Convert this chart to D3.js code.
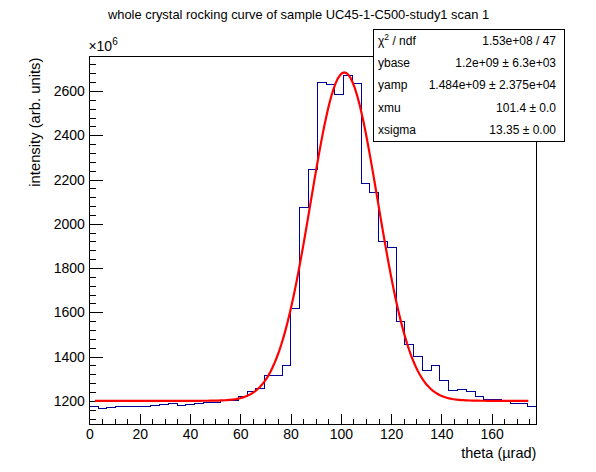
<!DOCTYPE html>
<html><head><meta charset="utf-8">
<script src="https://cdn.jsdelivr.net/npm/d3@7"></script>
<style>
body{margin:0;background:#fff}
svg{display:block}
text{font-family:"Liberation Sans",Arial,Helvetica,sans-serif;fill:#000}
</style>
</head><body>
<svg id="c" width="596" height="472"></svg>
<script>
// ---- data (intensity in units of 1e6) ----
const xRange = [0, 177.8];            // histogram range, theta (µrad)
const binValues = [
  1173, 1166, 1170, 1175, 1175, 1175, 1176, 1178, 1185, 1186,
  1181, 1182, 1188, 1193, 1194, 1203, 1203, 1218, 1242, 1256,
  1316, 1316, 1361, 1618, 2074, 2246, 2639, 2630, 2582, 2671,
  2633, 2183, 2141, 1918, 1893, 1557, 1456, 1401, 1337, 1360,
  1294, 1247, 1252, 1242, 1220, 1208, 1208, 1200, 1188, 1188,
  1175
];
const yRange = [1093, 2755.5];
const xTicks = [0, 20, 40, 60, 80, 100, 120, 140, 160];
const yTicks = [1200, 1400, 1600, 1800, 2000, 2200, 2400, 2600];
const fitRange = [2.2, 174.6];
const fitParamNames = ["ybase", "yamp", "xmu", "xsigma"];
const fitParamValues = [1200, 1484, 101.4, 13.35];   // ybase, yamp in 1e6
const statLabels = ["χ2 / ndf", "ybase", "yamp", "xmu", "xsigma"];
const statValues = ["1.53e+08 / 47", "1.2e+09 ± 6.3e+03", "1.484e+09 ± 2.375e+04", "101.4 ± 0.0", "13.35 ± 0.00"];
const titleText = "whole crystal rocking curve of sample UC45-1-C500-study1 scan 1";
const xTitle = "theta (µrad)";
const yTitle = "intensity (arb. units)";

// ---- layout ----
const W = 596, H = 472;
const L = 89.4, R = 536.4, T = 56.6, B = 424.5;
const svg = d3.select("#c");
const x = d3.scaleLinear().domain(xRange).range([L, R]);
const y = d3.scaleLinear().domain(yRange).range([B, T]);

// minor ticks
const xMinor = d3.range(0, xRange[1] + 0.001, 5).filter(v => v % 20 !== 0);
const yMinor = d3.range(1120, yRange[1], 40).filter(v => v % 200 !== 0);

const gx = svg.append("g").attr("transform", `translate(0,${B})`);
gx.call(d3.axisBottom(x).tickValues(xTicks).tickSizeInner(-11).tickSizeOuter(0).tickPadding(5).tickFormat(d3.format("d")));
const gxm = svg.append("g").attr("transform", `translate(0,${B})`);
gxm.call(d3.axisBottom(x).tickValues(xMinor).tickSizeInner(-5.5).tickSizeOuter(0).tickFormat(""));

const gy = svg.append("g").attr("transform", `translate(${L},0)`);
gy.call(d3.axisLeft(y).tickValues(yTicks).tickSizeInner(-13.4).tickSizeOuter(0).tickPadding(4.5).tickFormat(d3.format("d")));
const gym = svg.append("g").attr("transform", `translate(${L},0)`);
gym.call(d3.axisLeft(y).tickValues(yMinor).tickSizeInner(-6.7).tickSizeOuter(0).tickFormat(""));

svg.selectAll(".domain").remove();
svg.selectAll(".tick line").attr("stroke", "#000").attr("shape-rendering", "crispEdges");
svg.selectAll(".tick text").style("font-size", "14px").attr("fill", "#000");

// histogram
const nb = binValues.length;
const bw = (xRange[1] - xRange[0]) / nb;
const pts = [];
binValues.forEach((v, i) => {
  pts.push([xRange[0] + i * bw, v]);
  pts.push([xRange[0] + (i + 1) * bw, v]);
});
svg.append("path")
  .attr("d", d3.line().x(d => x(d[0])).y(d => y(d[1]))(pts))
  .attr("fill", "none").attr("stroke", "#000099").attr("stroke-width", 1)
  .attr("shape-rendering", "crispEdges");

// fit function
const [ybase, yamp, xmu, xsig] = fitParamValues;
const fitX = d3.range(0, 201).map(i => fitRange[0] + (fitRange[1] - fitRange[0]) * i / 200);
svg.append("path")
  .attr("d", d3.line().x(d => x(d)).y(d => y(ybase + yamp * Math.exp(-0.5 * ((d - xmu) / xsig) ** 2)))(fitX))
  .attr("fill", "none").attr("stroke", "#ff0000").attr("stroke-width", 2.2);

// frame
svg.append("rect").attr("x", L).attr("y", T).attr("width", R - L).attr("height", B - T)
  .attr("fill", "none").attr("stroke", "#000").attr("stroke-width", 1).attr("shape-rendering", "crispEdges");

// exponent label
const ex = svg.append("text").attr("x", L - 1).attr("y", 51).style("font-size", "14px");
ex.append("tspan").text("×10");
ex.append("tspan").attr("dy", -6).style("font-size", "10px").text("6");

// titles
svg.append("text").attr("x", 298.5).attr("y", 18.5).attr("text-anchor", "middle").style("font-size", "12.9px").text(titleText);
svg.append("text").attr("x", R).attr("y", 458).attr("text-anchor", "end").style("font-size", "14.5px").text(xTitle);
svg.append("text").attr("transform", `translate(40,${T + 1}) rotate(-90)`).attr("text-anchor", "end").style("font-size", "14.8px").text(yTitle);

// stats box
const bx0 = 373, bx1 = 564, by0 = 29, by1 = 141;
svg.append("rect").attr("x", bx0 + 1).attr("y", by0 + 1).attr("width", bx1 - bx0).attr("height", by1 - by0).attr("fill", "#000").attr("shape-rendering", "crispEdges");
svg.append("rect").attr("x", bx0).attr("y", by0).attr("width", bx1 - bx0).attr("height", by1 - by0)
  .attr("fill", "#fff").attr("stroke", "#000").attr("stroke-width", 1).attr("shape-rendering", "crispEdges");
const rowH = (by1 - by0) / statLabels.length;
statLabels.forEach((lab, i) => {
  const by = by0 + rowH * i + rowH / 2 + 4.3;
  const t = svg.append("text").attr("x", bx0 + 5).attr("y", by).style("font-size", "12px");
  if (i === 0) {
    t.append("tspan").text("χ");
    t.append("tspan").attr("dy", -5).style("font-size", "8.5px").text("2");
    t.append("tspan").attr("dy", 5).text(" / ndf");
  } else t.text(lab);
  svg.append("text").attr("x", bx1 - 8).attr("y", by).attr("text-anchor", "end").style("font-size", "12px").text(statValues[i]);
});
</script>
</body></html>
